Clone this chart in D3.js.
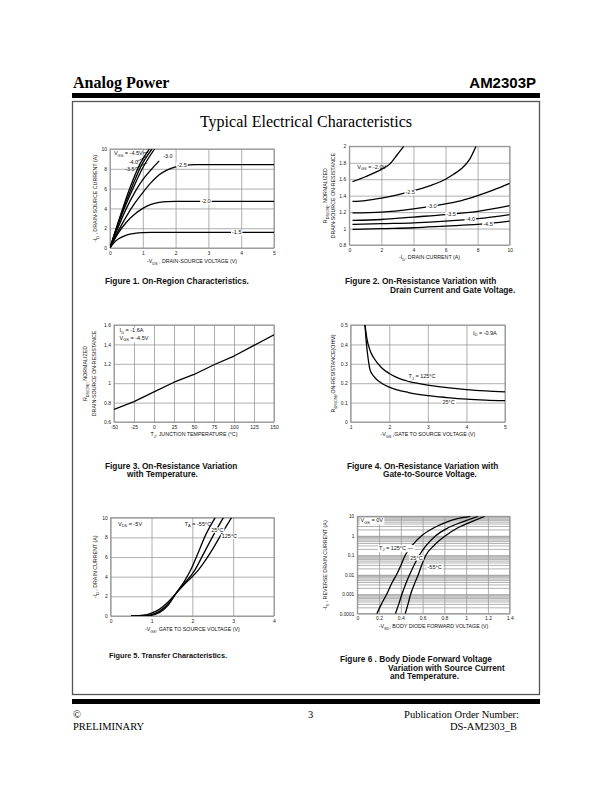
<!DOCTYPE html>
<html>
<head>
<meta charset="utf-8">
<script src="https://cdn.jsdelivr.net/npm/d3@7"></script>
<style>
  body { margin: 0; background: #fff; }
  svg { display: block; }
</style>
</head>
<body>
<svg id="page" width="612" height="792"></svg>
<script>
"use strict";

// ---- data ----

// Fig 1: -ID vs -VDS, one curve per VGS
const f1Vgs45 = [[0,0],[0.3,3.1],[0.6,6.0],[0.9,8.4],[1.2,10]];
const f1Vgs40 = [[0,0],[0.3,3.0],[0.65,6.0],[0.95,8.3],[1.28,10]];
const f1Vgs35 = [[0,0],[0.3,2.85],[0.7,6.0],[1.0,8.1],[1.36,10]];
const f1Vgs30 = [[0,0],[0.25,2.1],[0.5,4.0],[0.75,5.6],[1,6.9],[1.25,7.9],[1.5,8.8]];
const f1Vgs25 = [[0,0],[0.25,1.7],[0.5,3.2],[0.75,4.5],[1,5.6],[1.25,6.6],[1.5,7.4],[1.75,7.9],[2,8.2],[2.3,8.38],[2.6,8.42],[5,8.42]];
const f1Vgs20 = [[0,0],[0.25,1.5],[0.5,2.6],[0.75,3.4],[1,4.0],[1.25,4.4],[1.5,4.6],[1.75,4.68],[2,4.7],[5,4.7]];
const f1Vgs15 = [[0,0],[0.1,0.45],[0.25,0.9],[0.5,1.3],[0.75,1.48],[1,1.55],[1.25,1.57],[5,1.57]];
const f1Labels = [
  { t: "V_{GS} = -4.5V", x: 0.12, y: 9.55, a: "start" },
  { t: "-4.0", x: 0.57, y: 8.7, a: "start" },
  { t: "-3.5", x: 0.46, y: 8.0, a: "start" },
  { t: "-3.0", x: 1.62, y: 9.3, a: "start" },
  { t: "-2.5", x: 2.05, y: 8.42, a: "start", bg: true },
  { t: "-2.0", x: 2.78, y: 4.7, a: "start", bg: true },
  { t: "-1.5", x: 3.72, y: 1.57, a: "start", bg: true }
];
const f1Leaders = [[[0.83,8.75],[1.1,9.25]], [[0.76,8.05],[1.14,8.6]], [[1.0,9.6],[1.16,9.65]]];

// Fig 2: normalized RDS(on) vs -ID
const f2Vgs20 = [[0.2,1.57],[1,1.63],[2,1.72],[2.5,1.78],[3,1.9],[3.4,2.0]];
const f2Vgs25 = [[0.2,1.33],[1,1.34],[2,1.37],[3,1.41],[4,1.46],[5,1.52],[6,1.6],[6.5,1.66],[7,1.73],[7.5,1.84],[7.9,2.0]];
const f2Vgs30 = [[0.2,1.19],[2,1.2],[4,1.24],[6,1.3],[7,1.34],[8,1.4],[9,1.47],[10,1.55]];
const f2Vgs35 = [[0.2,1.1],[2,1.11],[4,1.14],[6,1.17],[8,1.21],[10,1.28]];
const f2Vgs40 = [[0.2,1.05],[2,1.06],[4,1.07],[6,1.09],[8,1.12],[10,1.17]];
const f2Vgs45 = [[0.2,0.99],[2,1.0],[4,1.01],[6,1.03],[8,1.05],[10,1.09]];
const f2Labels = [
  { t: "V_{GS} = -2.0V", x: 0.5, y: 1.75, a: "start" },
  { t: "-2.5", x: 3.5, y: 1.44, a: "start", bg: true },
  { t: "-3.0", x: 4.85, y: 1.27, a: "start", bg: true },
  { t: "-3.5", x: 6.05, y: 1.17, a: "start", bg: true },
  { t: "-4.0", x: 7.25, y: 1.115, a: "start", bg: true },
  { t: "-4.5", x: 8.35, y: 1.06, a: "start", bg: true }
];

// Fig 3: normalized RDS(on) vs junction temperature
const f3Temp = [-50, -25, 0, 25, 50, 75, 100, 125, 150];
const f3Rds = [0.73, 0.81, 0.91, 1.01, 1.09, 1.19, 1.28, 1.39, 1.5];
const f3Labels = [
  { t: "I_{D} = -1.6A", x: -43, y: 1.545, a: "start", bg: true },
  { t: "V_{GS} = -4.5V", x: -43, y: 1.468, a: "start", bg: true }
];

// Fig 4: RDS(on) vs -VGS
const f4T125 = [[1.37,0.5],[1.42,0.43],[1.5,0.37],[1.6,0.33],[1.8,0.28],[2,0.25],[2.25,0.225],[2.5,0.21],[3,0.19],[3.5,0.177],[4,0.167],[4.5,0.16],[5,0.155]];
const f4T25 = [[1.37,0.5],[1.4,0.42],[1.45,0.33],[1.5,0.27],[1.6,0.235],[1.8,0.2],[2,0.18],[2.5,0.152],[3,0.136],[3.5,0.126],[4,0.118],[4.5,0.113],[5,0.11]];
const f4Labels = [
  { t: "I_{D} = -0.9A", x: 4.17, y: 0.46, a: "start" },
  { t: "T_{J} = 125°C", x: 2.5, y: 0.235, a: "start", bg: true },
  { t: "25°C", x: 3.38, y: 0.102, a: "start", bg: true }
];

// Fig 5: transfer characteristics, -ID vs -VGS
const f5Tm55 = [[0.5,0],[0.8,0.02],[1.0,0.07],[1.2,0.35],[1.4,1.05],[1.6,2.3],[1.8,3.5],[1.95,4.6],[2.13,6.3],[2.31,8.1],[2.56,10]];
const f5T25 = [[0.5,0],[0.8,0.04],[1.0,0.15],[1.2,0.5],[1.4,1.2],[1.6,2.3],[1.8,3.3],[2.05,4.6],[2.27,6.3],[2.5,8.1],[2.76,10]];
const f5T125 = [[0.5,0.01],[0.8,0.08],[1.0,0.3],[1.2,0.7],[1.4,1.4],[1.6,2.3],[1.8,3.2],[2.15,4.7],[2.42,6.3],[2.68,8.1],[2.96,10]];
const f5Labels = [
  { t: "V_{DS} = -5V", x: 0.18, y: 9.4, a: "start" },
  { t: "T_{A} = -55°C", x: 2.46, y: 9.4, a: "end" },
  { t: "25°C", x: 2.46, y: 8.75, a: "start", bg: true },
  { t: "125°C", x: 2.72, y: 8.1, a: "start", bg: true }
];

// Fig 6: body diode, -IS (log) vs -VSD
const f6T125 = [[0.18,1e-4],[0.22,3e-4],[0.27,1e-3],[0.32,4e-3],[0.36,0.01],[0.4,0.03],[0.44,0.1],[0.5,0.3],[0.59,1],[0.7,2.5],[0.82,5],[0.92,7.5],[1.04,10]];
const f6T25 = [[0.35,1e-4],[0.38,3e-4],[0.41,1e-3],[0.45,4e-3],[0.48,0.01],[0.52,0.03],[0.57,0.1],[0.63,0.3],[0.72,1],[0.83,2.5],[0.96,5],[1.11,10]];
const f6Tm55 = [[0.44,1e-4],[0.465,3e-4],[0.49,1e-3],[0.53,4e-3],[0.56,0.01],[0.59,0.03],[0.63,0.1],[0.7,0.3],[0.81,1],[0.92,2.5],[1.04,5],[1.17,10]];
const f6Labels = [
  { t: "V_{GS} = 0V", x: 0.03, y: 6.3, a: "start", bg: true },
  { t: "T_{J} = 125°C —", x: 0.2, y: 0.245, a: "start", bg: true },
  { t: "25°C", x: 0.6, y: 0.075, a: "end", bg: true },
  { t: "-55°C", x: 0.645, y: 0.026, a: "start", bg: true }
];
const f6Decades = [0.0001, 0.001, 0.01, 0.1, 1, 10];

const captions = [
  { lines: ["Figure 1. On-Region Characteristics."], x: [105], y: 284 },
  { lines: ["Figure 2. On-Resistance Variation with", "Drain Current and Gate Voltage."], x: [345, 390], y: 284 },
  { lines: ["Figure 3. On-Resistance Variation", "with Temperature."], x: [105, 127], y: 468.5 },
  { lines: ["Figure 4. On-Resistance Variation with", "Gate-to-Source Voltage."], x: [347, 383], y: 468.5 },
  { lines: ["Figure  5. Transfer Characteristics."], x: [109], y: 657.5, size: 7.3 },
  { lines: ["Figure 6 . Body Diode Forward Voltage", "Variation with Source Current", "and Temperature."], x: [340, 388, 390], y: 662 }
];

// ---- drawing ----
const SANS = "'Liberation Sans', Arial, sans-serif";
const SERIF = "'Liberation Serif', 'Times New Roman', serif";
const svg = d3.select("#page");

// text with _{sub} parts
function rich(sel, str, size) {
  let shifted = false;
  str.split(/(_\{[^}]*\})/).forEach(part => {
    if (!part) return;
    if (part.startsWith("_{")) {
      sel.append("tspan").attr("font-size", size * 0.72).attr("dy", size * 0.3).text(part.slice(2, -1));
      shifted = true;
    } else {
      let t = sel.append("tspan").text(part);
      if (shifted) { t.attr("dy", -size * 0.3); shifted = false; }
    }
  });
  return sel;
}

function drawPanel(p) {
  let g = svg.append("g");
  let w = p.right - p.left, h = p.bottom - p.top;
  let x = d3.scaleLinear().domain(p.xDomain).range([p.left, p.right]);
  let y = (p.yLog ? d3.scaleLog() : d3.scaleLinear()).domain(p.yDomain).range([p.bottom, p.top]);

  if (p.yMinor) {
    g.append("g").selectAll("line").data(p.yMinor).join("line")
      .attr("x1", p.left).attr("x2", p.right)
      .attr("y1", d => y(d)).attr("y2", d => y(d))
      .attr("stroke", "#a8a8a8").attr("stroke-width", 0.9);
  }

  let xAx = g.append("g").attr("transform", "translate(0," + p.bottom + ")")
    .call(d3.axisBottom(x).tickValues(p.xTicks).tickSize(-h).tickPadding(3).tickFormat(d => String(d)));
  let yAx = g.append("g").attr("transform", "translate(" + p.left + ",0)")
    .call(d3.axisLeft(y).tickValues(p.yTicks).tickSize(-w).tickPadding(3).tickFormat(d => String(d)));
  [xAx, yAx].forEach(a => {
    a.select(".domain").remove();
    a.attr("font-family", SANS).attr("font-size", 5);
    a.selectAll("line").attr("stroke", "#9a9a9a").attr("stroke-width", 0.8);
    a.selectAll("text").attr("fill", "#222");
  });
  if (p.yTickSize) yAx.attr("font-size", p.yTickSize);

  g.append("rect")
    .attr("x", p.left).attr("y", p.top).attr("width", w).attr("height", h)
    .attr("fill", "none").attr("stroke", "#8c8c8c").attr("stroke-width", 0.9);

  svg.append("clipPath").attr("id", "clip" + p.id)
    .append("rect").attr("x", p.left).attr("y", p.top).attr("width", w).attr("height", h);

  let line = d3.line()
    .x(d => x(d[0]))
    .y(d => y(d[1]))
    .curve(p.curve || d3.curveMonotoneX);

  g.append("g").attr("clip-path", "url(#clip" + p.id + ")")
    .selectAll("path").data(p.series).join("path")
    .attr("d", line)
    .attr("fill", "none").attr("stroke", "#000").attr("stroke-width", 1.3)
    .attr("stroke-linejoin", "round");

  if (p.leaders) {
    g.selectAll(".leader").data(p.leaders).join("path")
      .attr("class", "leader")
      .attr("d", d3.line().x(d => x(d[0])).y(d => y(d[1])))
      .attr("fill", "none").attr("stroke", "#000").attr("stroke-width", 0.6);
  }

  (p.labels || []).forEach(l => {
    let lg = g.append("g");
    let t = lg.append("text")
      .attr("x", x(l.x)).attr("y", y(l.y)).attr("dy", "0.35em")
      .attr("text-anchor", l.a)
      .attr("font-family", SANS).attr("font-size", 5.5).attr("fill", "#111");
    rich(t, l.t, 5.5);
    if (l.bg) {
      let b = t.node().getBBox();
      lg.insert("rect", "text")
        .attr("x", b.x - 1).attr("y", b.y + 0.5)
        .attr("width", b.width + 2).attr("height", b.height - 0.5)
        .attr("fill", "#fff");
    }
  });

  let xt = g.append("text")
    .attr("x", (p.left + p.right) / 2).attr("y", p.xTitleY)
    .attr("text-anchor", "middle").attr("font-family", SANS).attr("font-size", 5.3).attr("fill", "#111");
  rich(xt, p.xTitle, 5.3);

  p.yTitle.forEach((s, i) => {
    let cx = p.yTitleX[i], cy = (p.top + p.bottom) / 2;
    let yt = g.append("text")
      .attr("transform", "translate(" + cx + "," + cy + ") rotate(-90)")
      .attr("text-anchor", "middle").attr("font-family", SANS).attr("font-size", 5.3).attr("fill", "#111");
    rich(yt, s, 5.3);
  });
}

// page header
svg.append("text").attr("x", 73).attr("y", 88)
  .attr("font-family", SERIF).attr("font-weight", "bold").attr("font-size", 16)
  .text("Analog Power");
svg.append("text").attr("x", 536).attr("y", 88).attr("text-anchor", "end")
  .attr("font-family", SANS).attr("font-weight", "bold").attr("font-size", 15)
  .text("AM2303P");
svg.append("rect").attr("x", 72).attr("y", 93).attr("width", 468).attr("height", 5).attr("fill", "#000");
svg.append("rect").attr("x", 72.5).attr("y", 101.5).attr("width", 467).attr("height", 593)
  .attr("fill", "none").attr("stroke", "#555").attr("stroke-width", 1.3);
svg.append("text").attr("x", 306).attr("y", 127).attr("text-anchor", "middle")
  .attr("font-family", SERIF).attr("font-size", 16)
  .text("Typical Electrical Characteristics");

drawPanel({
  id: 1, left: 110, right: 274, top: 149, bottom: 248,
  xDomain: [0, 5], yDomain: [0, 10],
  xTicks: [0, 1, 2, 3, 4, 5], yTicks: [0, 2, 4, 6, 8, 10],
  series: [f1Vgs45, f1Vgs40, f1Vgs35, f1Vgs30, f1Vgs25, f1Vgs20, f1Vgs15],
  labels: f1Labels, leaders: f1Leaders,
  xTitle: "-V_{DS} , DRAIN-SOURCE VOLTAGE (V)", xTitleY: 263,
  yTitle: ["-I_{D} , DRAIN-SOURCE CURRENT (A)"], yTitleX: [97]
});

drawPanel({
  id: 2, left: 349.3, right: 509.7, top: 146.3, bottom: 245,
  xDomain: [0, 10], yDomain: [0.8, 2],
  xTicks: [0, 2, 4, 6, 8, 10], yTicks: [0.8, 1, 1.2, 1.4, 1.6, 1.8, 2],
  series: [f2Vgs20, f2Vgs25, f2Vgs30, f2Vgs35, f2Vgs40, f2Vgs45],
  labels: f2Labels,
  xTitle: "-I_{D}, DRAIN CURRENT (A)", xTitleY: 259,
  yTitle: ["R_{DS(ON)}, NORMALIZED", "DRAIN-SOURCE ON-RESISTANCE"], yTitleX: [327, 335]
});

drawPanel({
  id: 3, left: 114, right: 274, top: 325, bottom: 422,
  xDomain: [-50, 150], yDomain: [0.6, 1.6],
  xTicks: f3Temp, yTicks: [0.6, 0.8, 1, 1.2, 1.4, 1.6],
  series: [d3.zip(f3Temp, f3Rds)],
  curve: d3.curveLinear,
  labels: f3Labels,
  xTitle: "T_{J}, JUNCTION TEMPERATURE (°C)", xTitleY: 436,
  yTitle: ["R_{DS(ON)}, NORMALIZED", "DRAIN-SOURCE ON-RESISTANCE"], yTitleX: [87, 96]
});

drawPanel({
  id: 4, left: 350.7, right: 505, top: 325, bottom: 422,
  xDomain: [1, 5], yDomain: [0, 0.5],
  xTicks: [1, 2, 3, 4, 5], yTicks: [0, 0.1, 0.2, 0.3, 0.4, 0.5],
  series: [f4T125, f4T25],
  labels: f4Labels,
  xTitle: "-V_{GS} ,GATE TO SOURCE VOLTAGE (V)", xTitleY: 436,
  yTitle: ["R_{DS(ON)},ON-RESISTANCE(OHM)"], yTitleX: [335]
});

drawPanel({
  id: 5, left: 110.7, right: 274, top: 517.7, bottom: 616,
  xDomain: [0, 4], yDomain: [0, 10],
  xTicks: [0, 1, 2, 3, 4], yTicks: [0, 2, 4, 6, 8, 10],
  series: [f5Tm55, f5T25, f5T125],
  labels: f5Labels,
  xTitle: "-V_{GS}, GATE TO SOURCE VOLTAGE (V)", xTitleY: 631,
  yTitle: ["-I_{D} , DRAIN CURRENT (A)"], yTitleX: [97]
});

let f6Minor = [];
f6Decades.slice(0, -1).forEach(d => { for (let k = 2; k <= 9; k++) f6Minor.push(d * k); });

drawPanel({
  id: 6, left: 357.3, right: 509.7, top: 516.3, bottom: 613.7,
  xDomain: [0, 1.4], yDomain: [0.0001, 10], yLog: true,
  xTicks: [0, 0.2, 0.4, 0.6, 0.8, 1, 1.2, 1.4], yTicks: f6Decades, yMinor: f6Minor,
  yTickSize: 4.8,
  series: [f6T125, f6T25, f6Tm55],
  labels: f6Labels,
  xTitle: "-V_{SD}, BODY DIODE FORWARD VOLTAGE (V)", xTitleY: 628,
  yTitle: ["-I_{S} , REVERSE DRAIN CURRENT (A)"], yTitleX: [327]
});

// figure captions
captions.forEach(c => {
  c.lines.forEach((s, i) => {
    svg.append("text")
      .attr("x", c.x[i]).attr("y", c.y + i * 8.6)
      .attr("font-family", SANS).attr("font-weight", "bold")
      .attr("font-size", c.size || 8.3).attr("fill", "#111")
      .text(s);
  });
});

// footer
svg.append("rect").attr("x", 72).attr("y", 699).attr("width", 468).attr("height", 5).attr("fill", "#000");
let foot = svg.append("g").attr("font-family", SERIF).attr("font-size", 10.5).attr("fill", "#000");
foot.append("text").attr("x", 73).attr("y", 718).text("©");
foot.append("text").attr("x", 73).attr("y", 730).text("PRELIMINARY");
foot.append("text").attr("x", 308).attr("y", 718).text("3");
foot.append("text").attr("x", 519).attr("y", 718).attr("text-anchor", "end").text("Publication Order Number:");
foot.append("text").attr("x", 517).attr("y", 730).attr("text-anchor", "end").text("DS-AM2303_B");
</script>
</body>
</html>
